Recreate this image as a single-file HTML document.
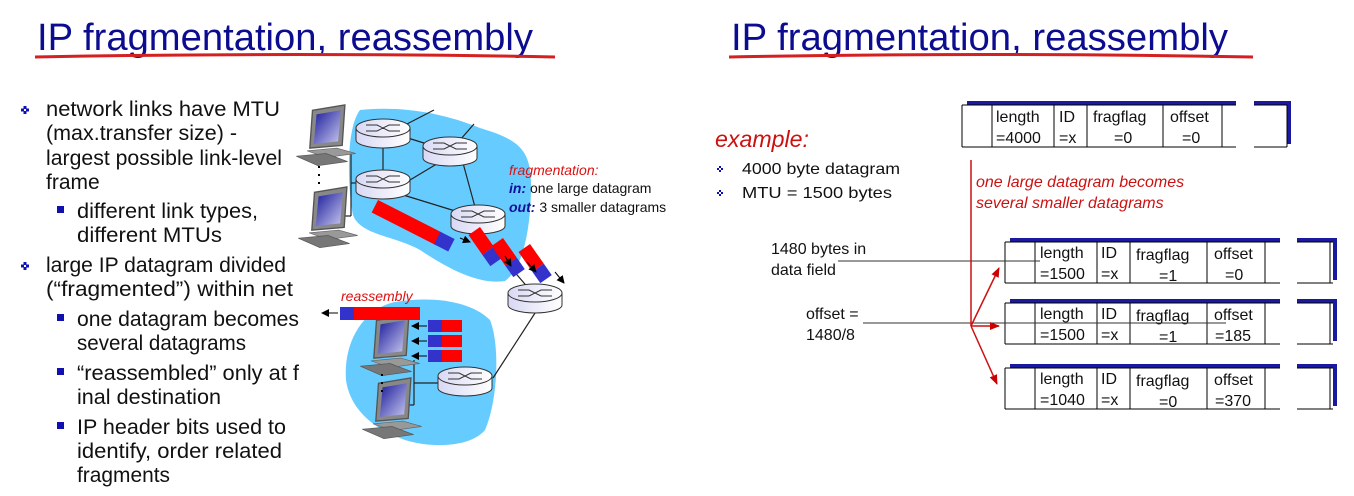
<!DOCTYPE html>
<html><head><meta charset="utf-8"><style>
html,body{margin:0;padding:0;background:#fff;}
svg{display:block;}
.t{font-family:"Liberation Sans",sans-serif;}
</style></head><body>
<svg width="1354" height="496" viewBox="0 0 1354 496" xmlns="http://www.w3.org/2000/svg">
<defs>
<linearGradient id="rg" x1="0" x2="1"><stop offset="0" stop-color="#d8d8f4"/><stop offset="1" stop-color="#ffffff"/></linearGradient>
<linearGradient id="sc" x1="0" y1="0" x2="1" y2="1"><stop offset="0" stop-color="#1a1a9a"/><stop offset="1" stop-color="#c8c8f0"/></linearGradient>
<g id="router">
<path d="M-27,0 L-27,12 A27,8 0 0 0 27,12 L27,0 Z" fill="url(#rg)" stroke="#333" stroke-width="1"/>
<ellipse cx="0" cy="0" rx="27" ry="9" fill="url(#rg)" stroke="#333" stroke-width="1"/>
<path d="M-17,-3 L-6,-3 L6,3 L17,3 M-17,3 L-6,3 L6,-3 L17,-3" stroke="#333" stroke-width="1" fill="none"/>
</g>
<g id="host0">
<polygon points="-10,-22 14,-26 12,4 -12,6" fill="#888" stroke="#555"/>
<polygon points="-7,-19 11,-22 9,1 -9,3" fill="url(#sc)"/>
<polygon points="-14,8 8,6 22,10 0,13" fill="#999" stroke="#666" stroke-width="0.5"/>
<polygon points="-22,12 0,10 16,16 -6,19" fill="#777" stroke="#555" stroke-width="0.5"/>
</g>
<g id="host"><use href="#host0" transform="scale(1.35)"/></g>
<marker id="ab" markerWidth="8" markerHeight="8" refX="7" refY="4" orient="auto" markerUnits="userSpaceOnUse"><path d="M0,0 L8,4 L0,8 Z" fill="#000"/></marker>
<marker id="ar" markerWidth="10" markerHeight="10" refX="9" refY="5" orient="auto" markerUnits="userSpaceOnUse"><path d="M0,1 L10,5 L0,9 Z" fill="#c00"/></marker>
</defs>

<text class="t" x="37" y="50" font-size="38" fill="#0c0c90" textLength="496" lengthAdjust="spacingAndGlyphs">IP fragmentation, reassembly</text>
<path d="M35,57 Q300,52 555,57" stroke="#d42020" stroke-width="3" fill="none"/>
<text class="t" x="731" y="50" font-size="38" fill="#0c0c90" textLength="497" lengthAdjust="spacingAndGlyphs">IP fragmentation, reassembly</text>
<path d="M729,57 Q990,52 1253,57" stroke="#d42020" stroke-width="3" fill="none"/>

<g class="t" font-size="21" fill="#111">
<text x="46" y="116" textLength="234" lengthAdjust="spacingAndGlyphs">network links have MTU</text>
<text x="46" y="140" textLength="191" lengthAdjust="spacingAndGlyphs">(max.transfer size) -</text>
<text x="46" y="165" textLength="236" lengthAdjust="spacingAndGlyphs">largest possible link-level</text>
<text x="46" y="189">frame</text>
<text x="77" y="218" textLength="181" lengthAdjust="spacingAndGlyphs">different link types,</text>
<text x="77" y="242" textLength="145" lengthAdjust="spacingAndGlyphs">different MTUs</text>
<text x="46" y="272" textLength="240" lengthAdjust="spacingAndGlyphs">large IP datagram divided</text>
<text x="46" y="296" textLength="247" lengthAdjust="spacingAndGlyphs">(“fragmented”) within net</text>
<text x="77" y="326" textLength="222" lengthAdjust="spacingAndGlyphs">one datagram becomes</text>
<text x="77" y="350" textLength="169" lengthAdjust="spacingAndGlyphs">several datagrams</text>
<text x="77" y="380" textLength="222" lengthAdjust="spacingAndGlyphs">“reassembled” only at f</text>
<text x="77" y="404" textLength="144" lengthAdjust="spacingAndGlyphs">inal destination</text>
<text x="77" y="434" textLength="209" lengthAdjust="spacingAndGlyphs">IP header bits used to</text>
<text x="77" y="458" textLength="205" lengthAdjust="spacingAndGlyphs">identify, order related</text>
<text x="77" y="482" textLength="93" lengthAdjust="spacingAndGlyphs">fragments</text>
</g>
<g fill="#1010b0">
<g transform="translate(25,110)"><rect x="-1.5" y="-4" width="3" height="3"/><rect x="-1.5" y="1" width="3" height="3"/><rect x="-4" y="-1.5" width="3" height="3"/><rect x="1" y="-1.5" width="3" height="3"/></g>
<g transform="translate(25,266)"><rect x="-1.5" y="-4" width="3" height="3"/><rect x="-1.5" y="1" width="3" height="3"/><rect x="-4" y="-1.5" width="3" height="3"/><rect x="1" y="-1.5" width="3" height="3"/></g>
<rect x="57" y="206" width="7" height="7"/>
<rect x="57" y="314" width="7" height="7"/>
<rect x="57" y="368" width="7" height="7"/>
<rect x="57" y="422" width="7" height="7"/>
</g>

<path d="M360,110 C400,106 440,112 480,128 C520,140 532,150 531,190 C530,240 520,270 505,281 C480,285 450,270 420,250 C395,236 360,235 353,215 C348,190 345,130 360,110 Z" fill="#66ccff"/>
<path d="M395,302 C430,296 470,300 490,320 C500,345 498,400 485,430 C470,448 430,448 405,440 C375,430 350,410 346,380 C343,340 365,308 395,302 Z" fill="#66ccff"/>
<g stroke="#222" stroke-width="1.2" fill="none">
<line x1="383" y1="132" x2="383" y2="183"/>
<line x1="395" y1="134" x2="440" y2="148"/>
<line x1="400" y1="186" x2="440" y2="162"/>
<line x1="400" y1="194" x2="465" y2="214"/>
<line x1="463" y1="163" x2="475" y2="207"/>
<line x1="405" y1="125" x2="434" y2="110"/>
<line x1="460" y1="140" x2="474" y2="124"/>
<line x1="500" y1="255" x2="530" y2="290"/>
<line x1="537" y1="310" x2="493" y2="378"/>
<line x1="351" y1="153" x2="351" y2="216"/>
<line x1="340" y1="153" x2="351" y2="153"/>
<line x1="340" y1="216" x2="351" y2="216"/>
<line x1="351" y1="183" x2="356" y2="183"/>
<line x1="414" y1="360" x2="414" y2="405"/>
<line x1="414" y1="383" x2="438" y2="383"/>
<line x1="405" y1="405" x2="414" y2="405"/>
</g>
<use href="#router" x="383" y="128"/>
<use href="#router" x="450" y="146"/>
<use href="#router" x="383" y="179"/>
<use href="#router" x="478" y="214"/>
<use href="#router" x="535" y="293"/>
<use href="#router" x="465" y="376"/>
<use href="#host" x="326" y="140"/>
<use href="#host" x="328" y="222"/>
<use href="#host" x="390" y="350"/>
<use href="#host" x="392" y="413"/>
<g fill="#000"><rect x="318" y="166" width="2" height="2"/><rect x="318" y="174" width="2" height="2"/><rect x="318" y="182" width="2" height="2"/>
<rect x="381" y="374" width="2" height="2"/><rect x="381" y="382" width="2" height="2"/><rect x="381" y="390" width="2" height="2"/></g>

<g transform="translate(378,200) rotate(27)"><rect x="0" y="0" width="72" height="14" fill="#ff0000"/><rect x="70" y="0" width="16" height="14" fill="#3333cc"/></g>
<line x1="460" y1="238" x2="470" y2="242" stroke="#000" marker-end="url(#ab)"/>
<g transform="translate(480,227) rotate(55)"><rect x="0" y="0" width="24" height="14" fill="#ff0000"/><rect x="24" y="0" width="14" height="14" fill="#3333cc"/></g>
<g transform="translate(503,238) rotate(55)"><rect x="0" y="0" width="24" height="14" fill="#ff0000"/><rect x="24" y="0" width="14" height="14" fill="#3333cc"/></g>
<g transform="translate(530,244) rotate(55)"><rect x="0" y="0" width="24" height="14" fill="#ff0000"/><rect x="24" y="0" width="14" height="14" fill="#3333cc"/></g>
<g stroke="#000" stroke-width="1">
<line x1="505" y1="256" x2="511" y2="266" marker-end="url(#ab)"/>
<line x1="527" y1="262" x2="536" y2="272" marker-end="url(#ab)"/>
<line x1="555" y1="272" x2="564" y2="283" marker-end="url(#ab)"/>
</g>

<text class="t" x="509" y="175" font-size="14" fill="#dd1111" font-style="italic">fragmentation:</text>
<text class="t" x="509" y="193" font-size="14" fill="#111"><tspan fill="#10109a" font-weight="bold" font-style="italic">in:</tspan> one large datagram</text>
<text class="t" x="509" y="212" font-size="14" fill="#111"><tspan fill="#10109a" font-weight="bold" font-style="italic">out:</tspan> 3 smaller datagrams</text>

<text class="t" x="341" y="301" font-size="14" fill="#dd1111" font-style="italic">reassembly</text>
<rect x="340" y="307" width="14" height="13" fill="#3333cc"/><rect x="354" y="307" width="66" height="13" fill="#ff0000"/>
<line x1="338" y1="313" x2="322" y2="313" stroke="#000" marker-end="url(#ab)"/>
<g>
<rect x="428" y="320" width="14" height="12" fill="#3333cc"/><rect x="442" y="320" width="20" height="12" fill="#ff0000"/>
<rect x="428" y="335" width="14" height="12" fill="#3333cc"/><rect x="442" y="335" width="20" height="12" fill="#ff0000"/>
<rect x="428" y="350" width="14" height="12" fill="#3333cc"/><rect x="442" y="350" width="20" height="12" fill="#ff0000"/>
</g>
<g stroke="#000"><line x1="427" y1="326" x2="412" y2="326" marker-end="url(#ab)"/><line x1="427" y1="341" x2="412" y2="341" marker-end="url(#ab)"/><line x1="427" y1="356" x2="412" y2="356" marker-end="url(#ab)"/></g>

<text class="t" x="715" y="147" font-size="23" fill="#cc1111" font-style="italic" textLength="94" lengthAdjust="spacingAndGlyphs">example:</text>
<g fill="#1010b0">
<g transform="translate(720,169)"><rect x="-1" y="-3" width="2" height="2"/><rect x="-1" y="1" width="2" height="2"/><rect x="-3" y="-1" width="2" height="2"/><rect x="1" y="-1" width="2" height="2"/></g>
<g transform="translate(720,193)"><rect x="-1" y="-3" width="2" height="2"/><rect x="-1" y="1" width="2" height="2"/><rect x="-3" y="-1" width="2" height="2"/><rect x="1" y="-1" width="2" height="2"/></g>
</g>
<text class="t" x="742" y="174" font-size="16" fill="#111" textLength="158" lengthAdjust="spacingAndGlyphs">4000 byte datagram</text>
<text class="t" x="742" y="198" font-size="16" fill="#111" textLength="150" lengthAdjust="spacingAndGlyphs">MTU = 1500 bytes</text>

<g class="t" font-size="16" fill="#111">
<text x="771" y="254">1480 bytes in</text>
<text x="771" y="275">data field</text>
<text x="806" y="319">offset =</text>
<text x="806" y="340">1480/8</text>
</g>
<g class="t" font-size="16" fill="#cc1111" font-style="italic">
<text x="976" y="187">one large datagram becomes</text>
<text x="976" y="208">several smaller datagrams</text>
</g>

<g stroke="#000" stroke-width="1" fill="none">
<rect x="967" y="101" width="269" height="4" fill="#1a1aa0" stroke="none"/>
<rect x="1254" y="101" width="37" height="4" fill="#1a1aa0" stroke="none"/>
<rect x="1287" y="101" width="4" height="43" fill="#1a1aa0" stroke="none"/>
<line x1="962" y1="105" x2="1236" y2="105"/><line x1="1254" y1="105" x2="1287" y2="105"/>
<line x1="962" y1="147" x2="1236" y2="147"/><line x1="1254" y1="147" x2="1287" y2="147"/>
<line x1="962" y1="105" x2="962" y2="147"/>
<line x1="992" y1="105" x2="992" y2="147"/>
<line x1="1054" y1="105" x2="1054" y2="147"/>
<line x1="1087" y1="105" x2="1087" y2="147"/>
<line x1="1163" y1="105" x2="1163" y2="147"/>
<line x1="1222" y1="105" x2="1222" y2="147"/>
<line x1="1287" y1="105" x2="1287" y2="147"/>
</g>
<g class="t" font-size="16" fill="#111">
<text x="996" y="122">length</text><text x="996" y="143">=4000</text>
<text x="1059" y="122">ID</text><text x="1059" y="143">=x</text>
<text x="1093" y="122">fragflag</text><text x="1114" y="143">=0</text>
<text x="1170" y="122">offset</text><text x="1182" y="143">=0</text>
</g>

<g id="fb1">
<g stroke="#000" stroke-width="1" fill="none">
<rect x="1010" y="238" width="270" height="4" fill="#1a1aa0" stroke="none"/>
<rect x="1297" y="238" width="40" height="4" fill="#1a1aa0" stroke="none"/>
<rect x="1333" y="238" width="4" height="42" fill="#1a1aa0" stroke="none"/>
<line x1="1005" y1="242" x2="1280" y2="242"/><line x1="1297" y1="242" x2="1333" y2="242"/>
<line x1="1005" y1="283" x2="1280" y2="283"/><line x1="1297" y1="283" x2="1333" y2="283"/>
<line x1="1005" y1="242" x2="1005" y2="283"/>
<line x1="1035" y1="242" x2="1035" y2="283"/>
<line x1="1097" y1="242" x2="1097" y2="283"/>
<line x1="1130" y1="242" x2="1130" y2="283"/>
<line x1="1207" y1="242" x2="1207" y2="283"/>
<line x1="1265" y1="242" x2="1265" y2="283"/>
<line x1="1330" y1="242" x2="1330" y2="283"/>
</g>
</g>
<use href="#fb1" y="61"/>
<use href="#fb1" y="126"/>
<g class="t" font-size="16" fill="#111">
<text x="1040" y="258">length</text><text x="1040" y="279">=1500</text>
<text x="1101" y="258">ID</text><text x="1101" y="279">=x</text>
<text x="1136" y="260">fragflag</text><text x="1159" y="281">=1</text>
<text x="1214" y="259">offset</text><text x="1225" y="280">=0</text>
<text x="1040" y="319">length</text><text x="1040" y="340">=1500</text>
<text x="1101" y="319">ID</text><text x="1101" y="340">=x</text>
<text x="1136" y="321">fragflag</text><text x="1159" y="342">=1</text>
<text x="1214" y="320">offset</text><text x="1215" y="341">=185</text>
<text x="1040" y="384">length</text><text x="1040" y="405">=1040</text>
<text x="1101" y="384">ID</text><text x="1101" y="405">=x</text>
<text x="1136" y="386">fragflag</text><text x="1159" y="407">=0</text>
<text x="1214" y="385">offset</text><text x="1215" y="406">=370</text>
</g>

<line x1="838" y1="261" x2="1040" y2="261" stroke="#333" stroke-width="1"/>
<line x1="863" y1="323" x2="1226" y2="323" stroke="#333" stroke-width="1"/>
<g stroke="#cc1111" stroke-width="1.5" fill="none">
<line x1="971" y1="160" x2="971" y2="326"/>
<line x1="971" y1="326" x2="999" y2="268" marker-end="url(#ar)"/>
<line x1="971" y1="326" x2="999" y2="326" marker-end="url(#ar)"/>
<line x1="971" y1="326" x2="997" y2="384" marker-end="url(#ar)"/>
</g>
</svg>
</body></html>
